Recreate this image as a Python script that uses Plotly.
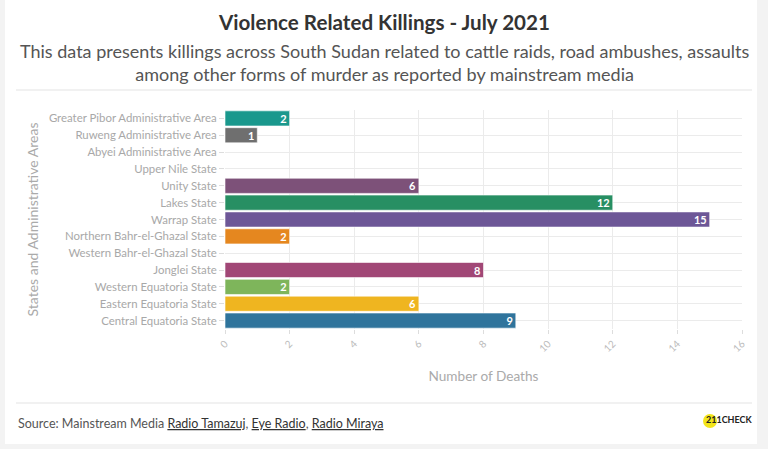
import plotly.graph_objects as go

categories = [
    "Greater Pibor Administrative Area",
    "Ruweng Administrative Area",
    "Abyei Administrative Area",
    "Upper Nile State",
    "Unity State",
    "Lakes State",
    "Warrap State",
    "Northern Bahr-el-Ghazal State",
    "Western Bahr-el-Ghazal State",
    "Jonglei State",
    "Western Equatoria State",
    "Eastern Equatoria State",
    "Central Equatoria State",
]
deaths = [2, 1, None, None, 6, 12, 15, 2, None, 8, 2, 6, 9]
colors = ["#1a988d", "#6f6f6f", "#cccccc", "#cccccc", "#7d5179", "#278f63",
          "#6d5797", "#e5871f", "#cccccc", "#a14776", "#7eb55b", "#efb520", "#2f749c"]
x_ticks = [0, 2, 4, 6, 8, 10, 12, 14, 16]

FONT = "Lato"

fig = go.Figure(go.Bar(
    y=categories, x=deaths, orientation="h",
    marker=dict(color=colors, line=dict(color="rgba(255,255,255,0.6)", width=1)),
    text=[str(v) if v is not None else "" for v in deaths],
    textposition="inside", insidetextanchor="end", textangle=0, constraintext="none",
    textfont=dict(color="white", size=11, family=FONT, weight="bold"),
    hoverinfo="x+y",
))

L, R, T, B = 225, 26, 110, 120
W, H = 768, 449
pw, ph = W - L - R, H - T - B

def px(x):
    return (x - L) / pw

def py(y):
    return 1 - (y - T) / ph

shapes = [
    dict(type="rect", xref="paper", yref="paper", x0=px(5), x1=px(757), y0=py(444), y1=py(-5),
         fillcolor="white", line=dict(width=0), layer="below"),
    dict(type="line", xref="paper", yref="paper", x0=px(16), x1=px(752), y0=py(90), y1=py(90),
         line=dict(color="#e3e3e3", width=1)),
    dict(type="line", xref="paper", yref="paper", x0=px(16), x1=px(752), y0=py(403), y1=py(403),
         line=dict(color="#e3e3e3", width=1)),
    dict(type="circle", xref="paper", yref="paper", x0=px(703), x1=px(717), y0=py(428), y1=py(414),
         fillcolor="#f3e51b", line=dict(width=0), layer="below"),
]

annotations = [
    dict(text="<b>Violence Related Killings - July 2021</b>", xref="paper", yref="paper",
         x=px(384), y=py(22), xanchor="center", yanchor="middle", showarrow=False,
         font=dict(size=20.6, color="#333333", family=FONT)),
    dict(text="This data presents killings across South Sudan related to cattle raids, road ambushes, assaults<br>among other forms of murder as reported by mainstream media",
         xref="paper", yref="paper", x=px(384), y=py(62), xanchor="center", yanchor="middle",
         showarrow=False, font=dict(size=18, color="#555555", family=FONT)),
    dict(text="Source: Mainstream Media <span style='color:#333'><u>Radio Tamazuj</u></span>, <span style='color:#333'><u>Eye Radio</u></span>, <span style='color:#333'><u>Radio Miraya</u></span>",
         xref="paper", yref="paper", x=px(16), y=py(423), xanchor="left", yanchor="middle",
         showarrow=False, font=dict(size=12.5, color="#555555", family=FONT)),
    dict(text="<b>211CHECK</b>", xref="paper", yref="paper", x=px(704), y=py(419),
         xanchor="left", yanchor="middle", showarrow=False,
         font=dict(size=9, color="#222222", family=FONT)),
]

fig.update_layout(
    width=W, height=H,
    margin=dict(l=L, r=R, t=T, b=B),
    paper_bgcolor="#f3f3f3", plot_bgcolor="#f4f4f4",
    font=dict(family=FONT, color="#aaaaaa"),
    shapes=shapes, annotations=annotations,
    bargap=0.1, showlegend=False,
    xaxis=dict(range=[0, 16], tickvals=x_ticks, ticktext=[str(v) for v in x_ticks],
               tickangle=-45, tickfont=dict(size=10, color="#bbbbbb"),
               showgrid=True, gridcolor="#ebebeb", zeroline=False,
               ticks="outside", ticklen=4, tickcolor="#dddddd",
               title=dict(text="Number of Deaths", font=dict(size=13.6, color="#aaaaaa"), standoff=18),
               fixedrange=True),
    yaxis=dict(autorange="reversed", tickfont=dict(size=11.4, color="#a8a8a8"),
               showgrid=True, gridcolor="#ebebeb",
               ticks="outside", ticklen=5, tickcolor="#dddddd",
               title=dict(text="States and Administrative Areas", font=dict(size=14, color="#aaaaaa"), standoff=6),
               fixedrange=True),
)

fig.write_html("out.html", config={"displayModeBar": False},
               post_script="document.body.style.margin='0';document.body.style.overflow='hidden';")
